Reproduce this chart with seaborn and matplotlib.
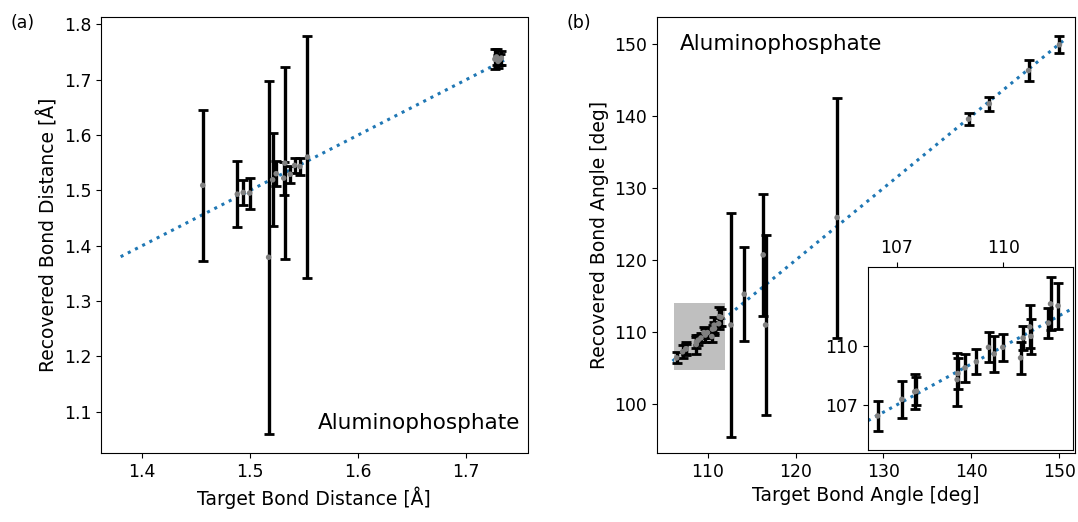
import numpy as np
import pandas as pd
import matplotlib
matplotlib.use("Agg")
import matplotlib.pyplot as plt
import seaborn as sns
from matplotlib.patches import Rectangle

# ---- Data: panel (a) bond distances ----
dist_target = [1.456, 1.488, 1.4935, 1.4994, 1.517, 1.5207, 1.524, 1.532, 1.531,
               1.537, 1.541, 1.546, 1.553, 1.7265, 1.728, 1.7295, 1.731, 1.7325]
dist_recovered = [1.509, 1.493, 1.496, 1.495, 1.379, 1.519, 1.530, 1.549, 1.522,
                  1.529, 1.545, 1.543, 1.560, 1.737, 1.741, 1.733, 1.736, 1.739]
dist_err = [0.136, 0.060, 0.023, 0.028, 0.319, 0.084, 0.023, 0.174, 0.030,
            0.015, 0.013, 0.015, 0.219, 0.018, 0.014, 0.012, 0.010, 0.012]
dist_line = [1.38, 1.735]

# ---- Data: panel (b) bond angles ----
ang_target = [106.47, 107.15, 107.51, 107.56, 108.70, 108.72, 108.92, 109.24, 109.58,
              109.74, 109.98, 110.48, 110.55, 110.74, 110.77, 111.26, 111.32, 111.53,
              112.65, 114.16, 116.32, 116.59, 124.73, 139.69, 142.05, 146.51, 150.03]
ang_recovered = [106.44, 107.29, 107.68, 107.71, 108.30, 108.61, 108.90, 109.21, 109.95,
                 109.61, 109.95, 109.41, 110.43, 110.99, 110.51, 111.19, 112.17, 112.07,
                 111.01, 115.28, 120.74, 111.01, 125.92, 139.58, 141.71, 146.33, 149.90]
ang_err = [0.76, 0.93, 0.90, 0.72, 1.35, 0.78, 0.73, 0.63, 0.76,
           0.90, 0.68, 0.83, 0.60, 1.10, 0.90, 0.79, 1.36, 1.16,
           15.6, 6.55, 8.45, 12.48, 16.65, 0.80, 0.93, 1.43, 1.16]
ang_line = [106.0, 150.5]

xticks_a = [1.4, 1.5, 1.6, 1.7]
yticks_a = [1.1, 1.2, 1.3, 1.4, 1.5, 1.6, 1.7, 1.8]
xticks_b = [110, 120, 130, 140, 150]
yticks_b = [100, 110, 120, 130, 140, 150]
inset_ticks = [107, 110]

df_a = pd.DataFrame({"t": dist_target, "r": dist_recovered, "e": dist_err})
df_b = pd.DataFrame({"t": ang_target, "r": ang_recovered, "e": ang_err})

TICK = 12.4
LABEL = 13.5
TEXT = 15.5


def draw(ax, df, line):
    ldf = pd.DataFrame({"x": line, "y": line})
    sns.lineplot(data=ldf, x="x", y="y", ax=ax, color="tab:blue",
                 linestyle=":", linewidth=2.2, zorder=1)
    ax.errorbar(df["t"], df["r"], yerr=df["e"], fmt="none", ecolor="black",
                elinewidth=2.4, capsize=3.6, capthick=2.0, zorder=3)
    sns.scatterplot(data=df, x="t", y="r", ax=ax, color="gray", s=16,
                    edgecolor="none", zorder=4)


fig = plt.figure(figsize=(10.78, 5.22), dpi=100)

# Panel (a)
ax1 = fig.add_axes([101 / 1078, 1 - 453 / 522, 426.5 / 1078, (453 - 16.7) / 522])
draw(ax1, df_a, dist_line)
ax1.set_xlim(1.3618, 1.7567)
ax1.set_ylim(1.0253, 1.8137)
ax1.set_xticks(xticks_a)
ax1.set_yticks(yticks_a)
ax1.set_xticklabels([f"{v:.1f}" for v in xticks_a])
ax1.set_yticklabels([f"{v:.1f}" for v in yticks_a])
ax1.tick_params(labelsize=TICK)
ax1.set_xlabel("Target Bond Distance [Å]", fontsize=LABEL)
ax1.set_ylabel("Recovered Bond Distance [Å]", fontsize=LABEL)
ax1.text(0.982, 0.045, "Aluminophosphate", transform=ax1.transAxes,
         ha="right", va="bottom", fontsize=TEXT)

# Panel (b)
ax2 = fig.add_axes([656.7 / 1078, 1 - 453 / 522, (1075 - 656.7) / 1078, (453 - 16.7) / 522])
draw(ax2, df_b, ang_line)
ax2.add_patch(Rectangle((106.2, 104.7), 111.95 - 106.2, 114.07 - 104.7,
                        facecolor="0.75", edgecolor="none", zorder=2))
ax2.set_xlim(104.2, 151.8)
ax2.set_ylim(93.24, 153.8)
ax2.set_xticks(xticks_b)
ax2.set_yticks(yticks_b)
ax2.tick_params(labelsize=TICK)
ax2.set_xlabel("Target Bond Angle [deg]", fontsize=LABEL)
ax2.set_ylabel("Recovered Bond Angle [deg]", fontsize=LABEL)
ax2.text(0.056, 0.96, "Aluminophosphate", transform=ax2.transAxes,
         ha="left", va="top", fontsize=TEXT)

# Inset
axin = fig.add_axes([868 / 1078, 1 - 450 / 522, 205 / 1078, (450 - 266.7) / 522])
draw(axin, df_b, ang_line)
axin.set_xlim(106.2, 111.95)
axin.set_ylim(104.7, 114.07)
axin.set_xticks(inset_ticks)
axin.set_yticks(inset_ticks)
axin.xaxis.tick_top()
axin.tick_params(labelsize=TICK)
axin.set_xlabel("")
axin.set_ylabel("")

fig.text(10 / 1078, 1 - 23 / 522, "(a)", fontsize=TICK, va="center", ha="left")
fig.text(567 / 1078, 1 - 23 / 522, "(b)", fontsize=TICK, va="center", ha="left")

fig.savefig("out.png", dpi=100)
